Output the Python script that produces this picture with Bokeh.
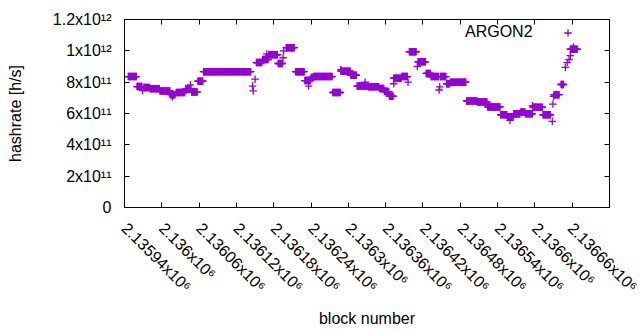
import math
import numpy as np
from bokeh.plotting import figure
from bokeh.models import (Range1d, LinearAxis, FixedTicker, Legend, LegendItem, ColumnDataSource,
                          CustomJSTickFormatter, Label)
from bokeh.embed import file_html
from bokeh.resources import INLINE

# runs of consecutive blocks sharing the same hashrate
run_start = [2135946, 2135960, 2135971, 2135981, 2135997, 2136014, 2136023, 2136038, 2136048, 2136058,
             2136067, 2136152, 2136162, 2136172, 2136187, 2136200, 2136215, 2136230, 2136240, 2136244,
             2136275, 2136288, 2136304, 2136314, 2136332, 2136350, 2136358, 2136366, 2136373, 2136386,
             2136398, 2136412, 2136425, 2136433, 2136448, 2136458, 2136464, 2136490, 2136508, 2136524,
             2136545, 2136556, 2136566, 2136577, 2136585, 2136597, 2136613, 2136631, 2136642, 2136657]
run_end = [2135959, 2135968, 2135980, 2135996, 2136013, 2136021, 2136037, 2136047, 2136057, 2136066,
           2136143, 2136161, 2136171, 2136186, 2136194, 2136213, 2136229, 2136239, 2136243, 2136274,
           2136287, 2136303, 2136313, 2136331, 2136349, 2136357, 2136365, 2136372, 2136385, 2136395,
           2136409, 2136424, 2136432, 2136445, 2136457, 2136463, 2136489, 2136507, 2136523, 2136544,
           2136555, 2136565, 2136576, 2136584, 2136596, 2136612, 2136625, 2136639, 2136646, 2136668]
run_value = [8.36e11, 7.72e11, 7.66e11, 7.58e11, 7.44e11, 7.20e11, 7.34e11, 7.56e11, 7.37e11, 8.06e11,
             8.67e11, 9.25e11, 9.44e11, 9.75e11, 9.19e11, 1.02e12, 8.67e11, 8.10e11, 8.30e11, 8.36e11,
             7.34e11, 8.70e11, 8.44e11, 7.75e11, 7.70e11, 7.60e11, 7.40e11, 7.10e11, 8.25e11, 8.36e11,
             9.94e11, 9.30e11, 8.56e11, 8.36e11, 8.36e11, 7.90e11, 8.00e11, 6.80e11, 6.73e11, 6.42e11,
             5.92e11, 5.80e11, 5.98e11, 6.10e11, 5.98e11, 6.40e11, 5.92e11, 7.20e11, 7.85e11, 1.01e12]

# isolated blocks
single_block = [2135969, 2136017, 2136046, 2136146, 2136147, 2136150, 2136169, 2136195, 2136196, 2136236,
                2136288, 2136327, 2136373, 2136396, 2136411, 2136446, 2136447, 2136560, 2136596, 2136628,
                2136629, 2136630, 2136649, 2136652, 2136655, 2136657, 2136662]
single_value = [7.46e11, 7.06e11, 7.83e11, 7.75e11, 7.44e11, 8.19e11, 9.80e11, 9.56e11, 1.00e12, 7.75e11,
                8.80e11, 8.00e11, 7.90e11, 8.00e11, 9.00e11, 7.50e11, 7.70e11, 5.56e11, 6.50e11, 5.50e11,
                6.60e11, 7.10e11, 8.94e11, 9.25e11, 9.44e11, 9.70e11, 1.025e12]

x_ticks = [2135940, 2136000, 2136060, 2136120, 2136180, 2136240, 2136300, 2136360, 2136420,
           2136480, 2136540, 2136600, 2136660, 2136720]
x_tick_labels = ["2.13594x10\u2076", "2.136x10\u2076", "2.13606x10\u2076", "2.13612x10\u2076",
                 "2.13618x10\u2076", "2.13624x10\u2076", "2.1363x10\u2076", "2.13636x10\u2076",
                 "2.13642x10\u2076", "2.13648x10\u2076", "2.13654x10\u2076", "2.1366x10\u2076",
                 "2.13666x10\u2076", "2.13672x10\u2076"]
y_ticks = [0, 2e11, 4e11, 6e11, 8e11, 1e12, 1.2e12]
y_tick_labels = ["0", "2x10\u00b9\u00b9", "4x10\u00b9\u00b9", "6x10\u00b9\u00b9", "8x10\u00b9\u00b9",
                 "1x10\u00b9\u00b2", "1.2x10\u00b9\u00b2"]

series_name = "ARGON2"
COLOR = "#9400d3"
FONT = "Liberation Sans"
FS = "16px"

xs, ys = [], []
for s, e, v in zip(run_start, run_end, run_value):
    blocks = np.arange(s, e + 1)
    xs.extend(blocks.tolist())
    ys.extend([v] * len(blocks))
xs.extend(single_block)
ys.extend(single_value)
src = ColumnDataSource(dict(x=xs, y=ys))

p = figure(width=640, height=330, output_backend="svg", toolbar_location=None,
           x_range=Range1d(x_ticks[0], x_ticks[-1]), y_range=Range1d(y_ticks[0], y_ticks[-1]),
           min_border_left=124, min_border_right=31, min_border_top=19, min_border_bottom=119)
p.grid.visible = False
p.outline_line_color = "black"
p.outline_line_width = 1
p.background_fill_color = "white"
p.border_fill_color = "white"

r = p.scatter("x", "y", source=src, marker="cross", size=7.5, line_width=1.3, color=COLOR)
# invisible placeholder so the legend text sits left of the key marker (gnuplot style)
dummy = p.scatter(x=[], y=[], marker="cross", size=7.5, line_alpha=0, fill_alpha=0)

blank = CustomJSTickFormatter(code="return ''")

def style(ax, ticks, labels=None):
    ax.ticker = FixedTicker(ticks=ticks)
    ax.major_tick_in = 5
    ax.major_tick_out = 0
    ax.minor_tick_line_color = None
    ax.axis_line_color = "black"
    ax.major_tick_line_color = "black"
    ax.major_label_text_font = FONT
    ax.major_label_text_font_size = FS
    ax.major_label_text_color = "black"
    ax.axis_label_text_font = FONT
    ax.axis_label_text_font_size = FS
    ax.axis_label_text_font_style = "normal"
    ax.axis_label_text_color = "black"
    if labels is not None:
        ax.major_label_overrides = dict(zip(ticks, labels))

# the tick at the right frame edge gets its label as a free label (so it is clipped
# by the page edge like in the reference instead of being pushed inward)
style(p.xaxis[0], x_ticks[:-1], x_tick_labels[:-1])
p.xaxis.major_label_orientation = -math.pi / 4
p.xaxis.major_label_standoff = 18
p.xaxis.axis_label = "block number"
p.xaxis.axis_label_standoff = 6

last_label = Label(x=x_ticks[-1], y=y_ticks[0], x_units="data", y_units="data",
                   text=x_tick_labels[-1], angle=-math.pi / 4, text_align="left",
                   text_baseline="top", x_offset=0, y_offset=-18,
                   text_font=FONT, text_font_size=FS, text_color="black")
p.add_layout(last_label)

style(p.yaxis[0], y_ticks, y_tick_labels)
p.yaxis.major_label_standoff = 13
p.yaxis.axis_label = "hashrate [h/s]"
p.yaxis.axis_label_standoff = 26

right = LinearAxis(formatter=blank)
style(right, y_ticks)
right.major_label_standoff = 0
p.add_layout(right, "right")

top = LinearAxis(formatter=blank)
style(top, x_ticks)
top.major_label_standoff = 0
p.add_layout(top, "above")

legend = Legend(items=[LegendItem(label=series_name, renderers=[dummy]),
                       LegendItem(label=" ", renderers=[r])],
                orientation="horizontal", location=(322, 165),
                border_line_color=None, background_fill_alpha=0,
                padding=0, margin=0, spacing=25, glyph_width=19, glyph_height=19,
                label_standoff=0, label_width=0, label_height=20,
                label_text_font=FONT, label_text_font_size=FS, label_text_color="black")
p.add_layout(legend)

open("out.html", "w").write(file_html(p, INLINE))
